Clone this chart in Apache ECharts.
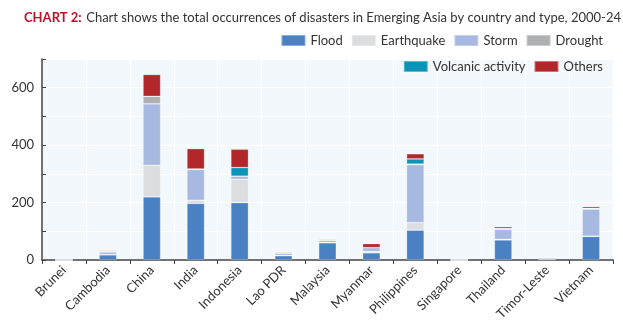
<!DOCTYPE html>
<html><head><meta charset="utf-8">
<script src="https://cdn.jsdelivr.net/npm/echarts@6/dist/echarts.min.js"></script>
<style>html,body{margin:0;padding:0;background:#fff}#c{width:623px;height:321px}</style>
</head><body><div id="c"></div>
<script>
const categories = ['Brunei','Cambodia','China','India','Indonesia','Lao PDR','Malaysia','Myanmar','Philippines','Singapore','Thailand','Timor-Leste','Vietnam'];
const flood      = [0, 18, 220, 197, 200, 15, 60, 25, 104, 0, 70, 2, 82];
const earthquake = [0, 1, 110, 11, 81, 1, 1, 5, 26, 0, 2, 0, 1];
const storm      = [0, 9, 214, 107, 11, 8, 8, 13, 202, 0, 34, 5, 94];
const drought    = [0, 3, 26, 2, 0, 1, 1, 0, 2, 0, 4, 2, 3];
const volcanic   = [0, 0, 0, 0, 30, 0, 0, 0, 18, 0, 0, 0, 0];
const others     = [0, 3, 76, 71, 64, 3, 3, 14, 18, 0, 6, 0, 6];
const yTicks = [0, 200, 400, 600];

const FONT = 'Lato';
const colors = {Flood:'#4b80c2', Earthquake:'#dcdddf', Storm:'#a7b9e0', Drought:'#aeb0b2', 'Volcanic activity':'#0a94b8', Others:'#b2282a'};
const seriesDefs = [['Flood',flood],['Earthquake',earthquake],['Storm',storm],['Drought',drought],['Volcanic activity',volcanic],['Others',others]];

const chart = echarts.init(document.getElementById('c'), null, {renderer:'canvas'});
const legendCommon = {right: 15, itemWidth: 24, itemHeight: 11, itemGap: 8, icon:'rect',
  textStyle:{fontFamily:FONT, fontSize:13, color:'#333'}};
chart.setOption({
  animation:false,
  textStyle:{fontFamily:FONT},
  title:{left:19, top:4, text:'{a|CHART 2:} {b|Chart shows the total occurrences of disasters in Emerging Asia by country and type, 2000-24}',
    textStyle:{fontWeight:'normal', rich:{a:{fontFamily:FONT, fontWeight:'bold', fontSize:13, color:'#c0112b'}, b:{fontFamily:FONT, fontWeight:'normal', fontSize:13, color:'#333'}}}},
  legend:[
    Object.assign({top:29, data:['Flood','Earthquake','Storm','Drought']}, legendCommon),
    Object.assign({top:55, data:['Volcanic activity','Others']}, legendCommon)
  ],
  grid:{left:42, right:10, top:59, bottom:61, outerBoundsMode:'none', containLabel:false, show:true, backgroundColor:'#f3f8fd', borderWidth:0},
  xAxis:{type:'category', data:categories,
    axisLine:{lineStyle:{color:'#444', width:1.5}},
    axisTick:{show:true, alignWithLabel:false, length:4, lineStyle:{color:'#444'}},
    axisLabel:{rotate:45, fontFamily:FONT, fontSize:13, color:'#333', margin:8, interval:0},
    splitLine:{show:true, lineStyle:{color:'#ffffff', width:1}}},
  yAxis:{type:'value', min:0, max:700, interval:100,
    axisLine:{show:true, lineStyle:{color:'#444', width:1.5}},
    axisTick:{show:true, inside:true, length:4, lineStyle:{color:'#444'}},
    axisLabel:{fontFamily:FONT, fontSize:13, color:'#333', margin:8,
      formatter: v => yTicks.includes(v) ? String(v) : ''},
    splitLine:{show:true, lineStyle:{color:'#ffffff', width:1}}},
  series: seriesDefs.map(([name, data]) => ({
    name, type:'bar', stack:'total', data, barWidth:'40%',
    itemStyle:{color:colors[name], borderColor:'rgba(255,255,255,0.35)', borderWidth:0.7}
  }))
});
</script></body></html>
